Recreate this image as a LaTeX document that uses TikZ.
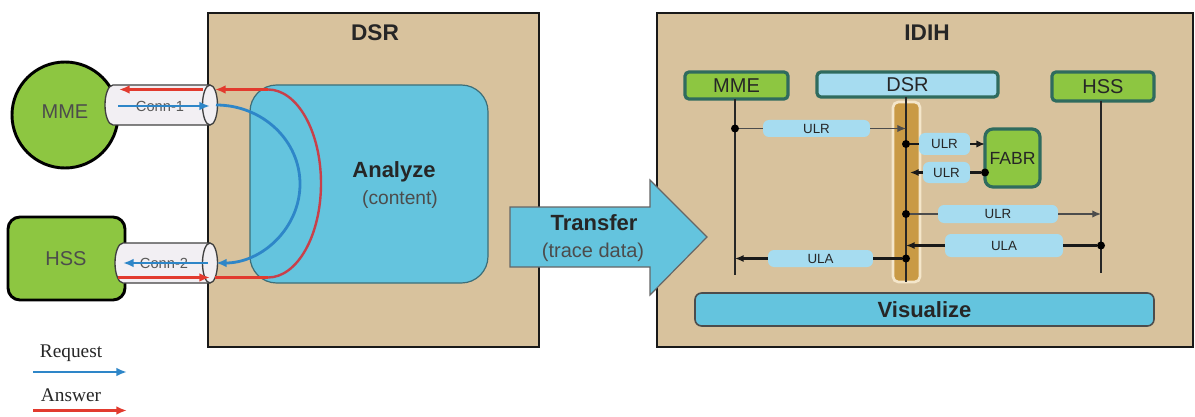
\documentclass[tikz,border=0pt]{standalone}
\usepackage{fontspec}
\setmainfont{Liberation Sans}
\newfontfamily\legendfont{Liberation Serif}
\usetikzlibrary{arrows.meta,shapes.geometric}
\definecolor{tanc}{HTML}{D8C29D}
\definecolor{greenc}{HTML}{8DC641}
\definecolor{cyanc}{HTML}{64C4DE}
\definecolor{lblue}{HTML}{A6DCF0}
\definecolor{teal2}{HTML}{2F6B5E}
\definecolor{barc}{HTML}{C99A45}
\definecolor{barline}{HTML}{F4E6CA}
\definecolor{reqc}{HTML}{2E86C8}
\definecolor{ansc}{HTML}{E23A2E}
\definecolor{ellc}{HTML}{C8404A}
\definecolor{txt}{HTML}{262626}
\definecolor{cylfill}{HTML}{F2EFF3}
\definecolor{anaedge}{HTML}{3D6E78}
\begin{document}
\begin{tikzpicture}[x=0.75pt,y=-0.75pt,
  every node/.style={inner sep=0pt, outer sep=0pt, text=txt},
  bigbox/.style={draw=black!90, line width=2pt, fill=tanc, rectangle},
  lane/.style={draw=teal2, line width=2.4pt, rounded corners=3pt, rectangle},
  lbl/.style={fill=lblue, rounded corners=4.5pt, rectangle, font=\fontsize{10}{12}\selectfont},
  life/.style={line width=2.1pt, draw=black!85},
  msgthin/.style={draw=black!70, line width=0.9pt},
  msgthick/.style={draw=black!90, line width=1.6pt},
  tip/.style={-{Latex[length=6.5pt,width=5.5pt]}},
  dotc/.style={circle, fill=black, minimum size=6pt},
  req/.style={draw=reqc, line width=2.1pt},
  ans/.style={draw=ansc, line width=2.1pt},
  atip/.style={-{Latex[length=8pt,width=6.5pt]}},
  cyl/.style={draw=black!75, line width=1pt, fill=cylfill},
]
\useasboundingbox (0,0) rectangle (1195,417);

% ---------- big boxes ----------
\node[bigbox, minimum width=248.25pt, minimum height=250.5pt] (dsrbox) at (373.5,180) {};
\node[font=\bfseries\fontsize{17}{20}\selectfont] (dsrtitle) at (375,33) {DSR};
\node[bigbox, minimum width=402pt, minimum height=250.5pt] (idihbox) at (925,180) {};
\node[font=\bfseries\fontsize{17}{20}\selectfont] (idihtitle) at (927,33) {IDIH};

% ---------- left endpoints ----------
\node[circle, draw=black, line width=2.2pt, fill=greenc, minimum size=79.5pt] (mme) at (65,115) {};
\node[font=\fontsize{15}{18}\selectfont, text=black!70] (mmetxt) at (65,112) {MME};
\node[rectangle, draw=black, line width=2.2pt, fill=greenc, rounded corners=9pt,
      minimum width=87.75pt, minimum height=62.25pt] (hss) at (66.5,258.5) {};
\node[font=\fontsize{15}{18}\selectfont, text=black!70] (hsstxt) at (66,259) {HSS};

% ---------- analyze ----------
\node[rectangle, rounded corners=20pt, fill=cyanc, draw=anaedge, line width=0.9pt,
      minimum width=178.5pt, minimum height=148.5pt] (analyze) at (369,184) {};
\node[font=\bfseries\fontsize{16.5}{19}\selectfont] (anatxt) at (394,172) {Analyze};
\node[font=\fontsize{14.4}{17}\selectfont, text=black!70] (contxt) at (400,200) {(content)};

% ---------- connections (cylinders) ----------
\draw[cyl] (210,85) -- (113,85) arc[start angle=270, end angle=90, x radius=8, y radius=20] -- (210,125);
\draw[cyl] (210,105) ellipse[x radius=7.5, y radius=20];
\node[font=\fontsize{11}{13}\selectfont, text=black!65] (conn1) at (160,106) {Conn-1};
\draw[cyl] (210,243) -- (123,243) arc[start angle=270, end angle=90, x radius=8, y radius=20] -- (210,283);
\draw[cyl] (210,263) ellipse[x radius=7.5, y radius=20];
\node[font=\fontsize{11}{13}\selectfont, text=black!65] (conn2) at (164,263) {Conn-2};

\coordinate (rt0) at (268,89.5);
\coordinate (rt1) at (215,89.5);
\coordinate (rt2) at (203,89.5);
\coordinate (rt3) at (119,89.5);
\coordinate (rb0) at (118,277.5);
\coordinate (rb1) at (210,277.5);
\coordinate (rb2) at (215,277.5);
\coordinate (rb3) at (268,277.5);
\coordinate (b1a) at (118,106);
\coordinate (b1b) at (210,106);
\coordinate (barc0) at (216,105);
\coordinate (b2a) at (208,263);
\coordinate (b2b) at (123,263);

\draw[ans, atip] (rt0) -- (rt1);
\draw[ans, atip] (rt2) -- (rt3);
\draw[ans, atip] (rb0) -- (rb1);
\draw[ans] (rb2) -- (rb3);
\draw[draw=ellc, line width=1.8pt] (rt0) arc[start angle=-90, end angle=90, x radius=53, y radius=94];
\draw[req, atip] (b1a) -- (b1b);
\draw[req, atip] (barc0) arc[start angle=-90, end angle=90, x radius=84, y radius=79];
\draw[req, atip] (b2a) -- (b2b);

% ---------- transfer arrow ----------
\draw[fill=cyanc, draw=black!60, line width=0.9pt]
  (510,207) -- (650,207) -- (650,180) -- (707,237) -- (650,295) -- (650,267) -- (510,267) -- cycle;
\node[font=\bfseries\fontsize{16.5}{19}\selectfont] (transfer) at (594,223) {Transfer};
\node[font=\fontsize{15}{18}\selectfont, text=black!70] (trace) at (593,252) {(trace data)};

% ---------- IDIH sequence ----------
\node[rectangle, fill=barc, draw=barline, line width=2pt, rounded corners=4pt,
      minimum width=20.25pt, minimum height=135pt] (bar) at (906.5,192) {};
\node[lane, fill=greenc, minimum width=77.25pt, minimum height=20.25pt, font=\fontsize{15}{18}\selectfont] (lmme) at (736.5,85.5) {MME};
\node[lane, fill=lblue, minimum width=135.75pt, minimum height=18.75pt, font=\fontsize{15}{18}\selectfont] (ldsr) at (907.5,84.5) {DSR};
\node[lane, fill=greenc, minimum width=76.5pt, minimum height=21.75pt, font=\fontsize{15}{18}\selectfont] (lhss) at (1103,86.5) {HSS};
\node[lane, fill=greenc, rounded corners=6pt, minimum width=41.25pt, minimum height=43.5pt, font=\fontsize{13.2}{15}\selectfont] (fabr) at (1012.5,158) {FABR};

\coordinate (mmeEnd) at (735,275);
\coordinate (dsrEnd) at (906,282);
\coordinate (hssEnd) at (1101,273);
\draw[life] (lmme.south -| mmeEnd) -- (mmeEnd);
\draw[life] (ldsr.south -| dsrEnd) -- (dsrEnd);
\draw[life] (lhss.south -| hssEnd) -- (hssEnd);

\node[lbl, minimum width=80.25pt, minimum height=12.75pt] (l1) at (816.5,128.5) {ULR};
\node[lbl, minimum width=38.25pt, minimum height=16.5pt] (l2) at (944.5,144) {ULR};
\node[lbl, minimum width=35.25pt, minimum height=15.75pt] (l3) at (946.5,172.5) {ULR};
\node[lbl, minimum width=90pt, minimum height=13.5pt] (l4) at (998,214) {ULR};
\node[lbl, minimum width=88.5pt, minimum height=17.25pt] (l5) at (1004,245.5) {ULA};
\node[lbl, minimum width=78.75pt, minimum height=12.75pt] (l6) at (820.5,258.5) {ULA};

% msg 1: MME -> DSR
\node[dotc] (d1) at (mmeEnd |- l1) {};
\draw[msgthin] (d1) -- (l1.west);
\draw[msgthin, tip] (l1.east) -- (dsrEnd |- l1);
% msg 2: DSR -> FABR
\node[dotc] (d2) at (dsrEnd |- l2) {};
\draw[msgthick] (d2) -- (l2.west);
\draw[msgthick, tip] (l2.east) -- (fabr.west |- l2);
% msg 3: FABR -> DSR
\node[dotc] (d3) at (fabr.west |- l3) {};
\draw[msgthick] (d3) -- (l3.east);
\draw[msgthick, tip] (l3.west) -- ([xshift=3]dsrEnd |- l3);
% msg 4: DSR -> HSS
\node[dotc] (d4) at (dsrEnd |- l4) {};
\draw[msgthin] (d4) -- (l4.west);
\draw[msgthin, tip] (l4.east) -- (hssEnd |- l4);
% msg 5: HSS -> DSR
\node[dotc] (d5) at (hssEnd |- l5) {};
\draw[msgthick] (d5) -- (l5.east);
\draw[msgthick, tip] (l5.west) -- (dsrEnd |- l5);
% msg 6: DSR -> MME
\node[dotc] (d6) at (dsrEnd |- l6) {};
\draw[msgthick] (d6) -- (l6.east);
\draw[msgthick, tip] (l6.west) -- (mmeEnd |- l6);

\node[rectangle, fill=cyanc, draw=black!70, line width=1.2pt, rounded corners=5pt,
      minimum width=344.25pt, minimum height=24.75pt, font=\bfseries\fontsize{16.5}{19}\selectfont] (vis) at (924.5,309.5) {Visualize};

% ---------- legend ----------
\node[font=\legendfont\fontsize{14.5}{17}\selectfont] (reqtxt) at (71,353) {Request};
\coordinate (lr0) at (33,372);
\coordinate (lr1) at (127,372);
\draw[req, atip] (lr0) -- (lr1);
\node[font=\legendfont\fontsize{14.5}{17}\selectfont] (anstxt) at (71,395) {Answer};
\coordinate (la0) at (33,410.5);
\coordinate (la1) at (127,410.5);
\draw[ans, atip] (la0) -- (la1);
\end{tikzpicture}
\end{document}
